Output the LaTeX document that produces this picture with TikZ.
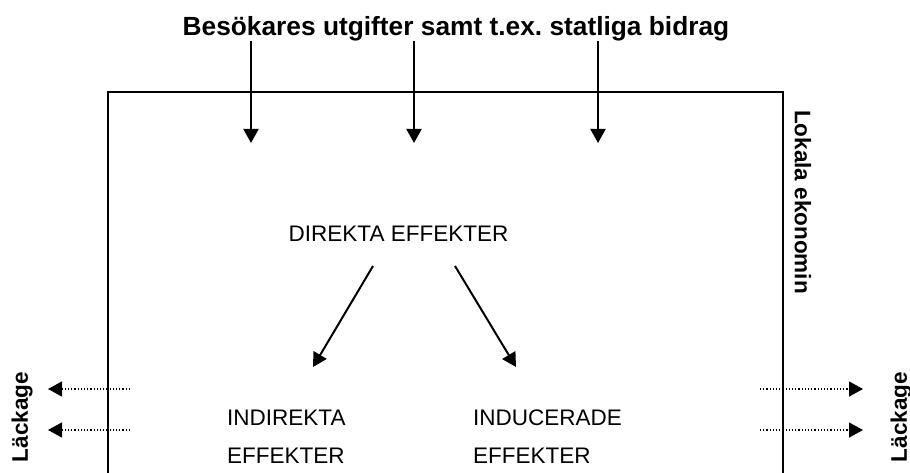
\documentclass[tikz,border=0pt]{standalone}
\usepackage{fontspec}
\setmainfont{Liberation Sans}
\usetikzlibrary{arrows.meta}
\frenchspacing
\newlength{\du}
\setlength{\du}{1pt}
\definecolor{dialinecolor}{rgb}{0.000000, 0.000000, 0.000000}
\tikzset{
  pil/.style={line width=2\du, draw=dialinecolor, -{Triangle[length=14pt,width=15pt]}},
  lacka/.style={line width=1.2\du, draw=dialinecolor, dotted, -{Triangle[length=14pt,width=15pt]}},
  rubrik/.style={font=\fontsize{26.3}{30}\selectfont\bfseries, inner sep=0pt},
  etikett/.style={font=\fontsize{22.5}{37.7}\selectfont, inner sep=0pt},
  sidtext/.style={font=\fontsize{22.5}{27}\selectfont\bfseries, inner sep=0pt}
}

\begin{document}
\begin{tikzpicture}
\useasboundingbox (0\du,0\du) rectangle (910\du,-473\du);
% ram
\draw[line width=2\du, draw=dialinecolor] (108\du,-473\du)--(108\du,-92\du)--(783\du,-92\du)--(783\du,-473\du);
% texter
\node[rubrik, anchor=base] (titel) at (456\du,-36\du){Besökares utgifter samt t.ex. statliga bidrag};
\node[etikett, anchor=base] (direkta) at (398.5\du,-241\du){DIREKTA EFFEKTER};
\node[etikett, anchor=base west, align=left] (indirekta) at (227\du,-463\du){INDIREKTA\\EFFEKTER};
\node[etikett, anchor=base west, align=left] (inducerade) at (473\du,-463\du){INDUCERADE\\EFFEKTER};
\node[sidtext, rotate=-90] (lokala) at (803\du,-202\du){Lokala ekonomin};
\node[sidtext, rotate=90] (vlackage) at (22\du,-417\du){Läckage};
\node[sidtext, rotate=90] (hlackage) at (901\du,-417\du){Läckage};
% pilar in
\coordinate (in1) at (251\du,-41\du);
\coordinate (in2) at (414\du,-41\du);
\coordinate (in3) at (598\du,-41\du);
\coordinate (ut1) at (251\du,-143\du);
\coordinate (ut2) at (414\du,-143\du);
\coordinate (ut3) at (598\du,-143\du);
\draw[pil] (in1)--(ut1);
\draw[pil] (in2)--(ut2);
\draw[pil] (in3)--(ut3);
% spridning
\coordinate (d1) at (373\du,-266\du);
\coordinate (d2) at (455\du,-266\du);
\coordinate (i1) at (313\du,-367\du);
\coordinate (i2) at (516\du,-367\du);
\draw[pil] (d1)--(i1);
\draw[pil] (d2)--(i2);
% lackage
\coordinate (v1) at (130\du,-389\du);
\coordinate (v2) at (130\du,-430\du);
\coordinate (vt1) at (48\du,-389\du);
\coordinate (vt2) at (48\du,-430\du);
\coordinate (h1) at (760\du,-389\du);
\coordinate (h2) at (760\du,-430\du);
\coordinate (ht1) at (863\du,-389\du);
\coordinate (ht2) at (863\du,-430\du);
\draw[lacka] (v1)--(vt1);
\draw[lacka] (v2)--(vt2);
\draw[lacka] (h1)--(ht1);
\draw[lacka] (h2)--(ht2);
\end{tikzpicture}
\end{document}
